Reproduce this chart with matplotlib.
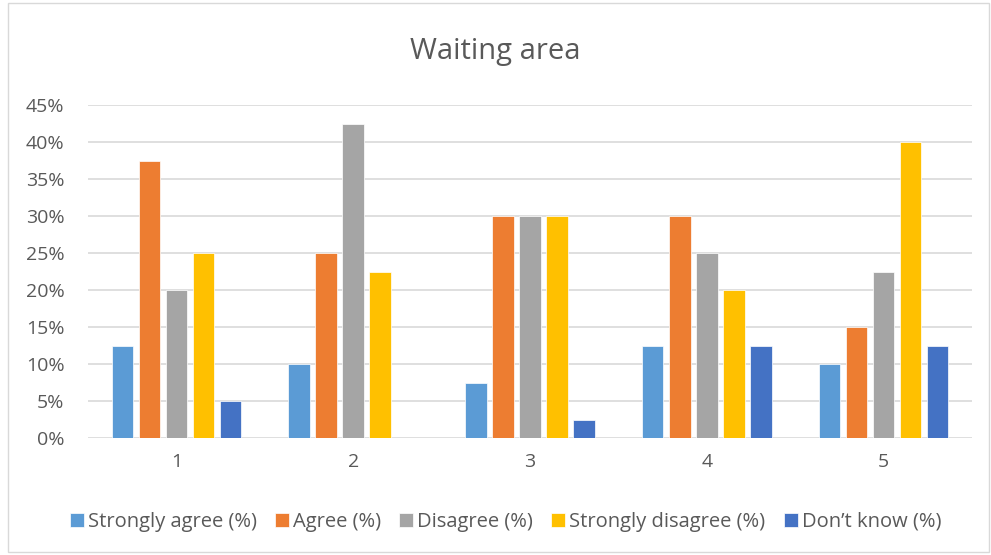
import matplotlib
matplotlib.use('Agg')
import matplotlib.pyplot as plt
import numpy as np
from matplotlib.patches import Rectangle
from matplotlib.ticker import PercentFormatter

# ── Data ──────────────────────────────────────────────────────────────────────
groups = ['1', '2', '3', '4', '5']
series = ['Strongly agree (%)', 'Agree (%)', 'Disagree (%)',
          'Strongly disagree (%)', 'Don\u2019t know (%)']
strongly_agree    = [12.5, 10.0, 7.5, 12.5, 10.0]
agree             = [37.5, 25.0, 30.0, 30.0, 15.0]
disagree          = [20.0, 42.5, 30.0, 25.0, 22.5]
strongly_disagree = [25.0, 22.5, 30.0, 20.0, 40.0]
dont_know         = [5.0, 0.0, 2.5, 12.5, 12.5]
colors = ['#5B9BD5', '#ED7D31', '#A5A5A5', '#FFC000', '#4472C4']

values = [strongly_agree, agree, disagree, strongly_disagree, dont_know]

# ── Plot ──────────────────────────────────────────────────────────────────────
plt.rcParams['font.family'] = ['Open Sans', 'DejaVu Sans']
fig = plt.figure(figsize=(9.91, 5.55), dpi=100)
ax = fig.add_axes([0.0888, 0.2108, 0.892, 0.600])

x = np.arange(len(groups))
pitch = 0.153
width = 0.122
for i, (name, vals, c) in enumerate(zip(series, values, colors)):
    ax.bar(x + (i - 2) * pitch, vals, width, color=c, label=name,
           edgecolor='white', linewidth=0.5, zorder=3)

ax.set_xlim(-0.5, len(groups) - 0.5)
ax.set_ylim(0, 45)
ax.set_yticks(np.arange(0, 46, 5))
ax.yaxis.set_major_formatter(PercentFormatter(decimals=0))
ax.set_xticks(x)
ax.set_xticklabels(groups)
ax.grid(axis='y', color='#D9D9D9', linewidth=1.2, zorder=0)
for s in ax.spines.values():
    s.set_visible(False)
ax.tick_params(axis='both', length=0, labelsize=14, colors='#595959')
ax.tick_params(axis='x', pad=11)
ax.tick_params(axis='y', pad=17)

fig.text(0.5, 0.908, 'Waiting area', ha='center', va='center',
         fontsize=21, color='#595959')

fig.legend(loc='center', bbox_to_anchor=(0.51, 0.06), ncol=5, frameon=False,
           fontsize=14.5, handlelength=0.7, handleheight=0.7,
           handletextpad=0.2, columnspacing=0.9, labelcolor='#595959')

fig.patches.append(Rectangle((0.008, 0.005), 0.99, 0.99, transform=fig.transFigure,
                             fill=False, edgecolor='#D9D9D9', linewidth=1))

plt.savefig('out.png', dpi=100)
plt.close()
